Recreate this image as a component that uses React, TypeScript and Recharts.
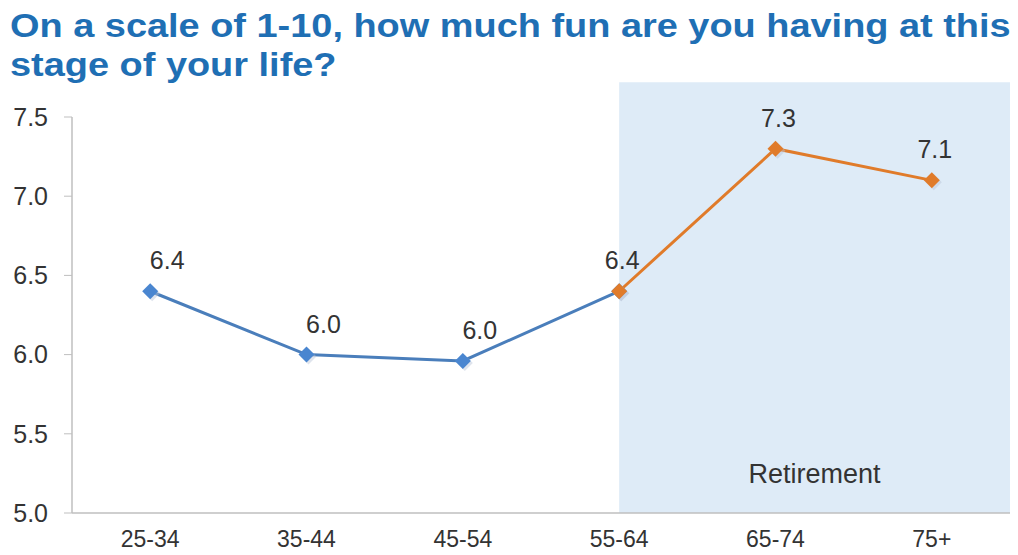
import React from "react";
import { LineChart, Line, XAxis, YAxis, ReferenceArea, Label } from "recharts";

const ageGroups = ["25-34", "35-44", "45-54", "55-64", "65-74", "75+"];
const funScores = [6.4, 6.0, 5.96, 6.4, 7.3, 7.1];
const retirementStart = 3; // first age group counted as retired
const scoreTicks = [5.0, 5.5, 6.0, 6.5, 7.0, 7.5];
const boundaryTicks = [-0.5, 0.5, 1.5, 2.5, 3.5, 4.5, 5.5];
const groupTicks = [0, 1, 2, 3, 4, 5];

const rows = ageGroups.map((group, i) => ({
  i,
  group,
  working: i <= retirementStart ? funScores[i] : null,
  retired: i >= retirementStart ? funScores[i] : null,
}));

const FONT = "'Liberation Sans', Arial, sans-serif";
const BLUE = "#4a7ebb";
const BLUE_DOT = "#4a86d0";
const ORANGE = "#e07b2a";
const GRID = "#bfbfbf";
const TEXT = "#333333";

const diamond = (fill: string) => (props: any) => {
  const { cx, cy, value, index } = props;
  if (value == null || cx == null || cy == null) return <g key={`d-${index}`} />;
  const r = 8;
  const path = (x: number, y: number) => `M${x},${y - r} L${x + r},${y} L${x},${y + r} L${x - r},${y} Z`;
  return (
    <g key={`d-${index}`}>
      <path d={path(cx + 2, cy + 2)} fill="#b8c4d6" opacity={0.45} />
      <path d={path(cx, cy)} fill={fill} />
    </g>
  );
};

const valueLabel = (dx: number, skip: number | null) => (props: any) => {
  const { x, y, value, index } = props;
  if (value == null || index === skip) return null;
  return (
    <text
      key={`l-${index}`}
      x={x + dx}
      y={y - 22}
      textAnchor="middle"
      fontFamily={FONT}
      fontSize={25}
      fill={TEXT}
    >
      {Number(value).toFixed(1)}
    </text>
  );
};

export default function App() {
  return (
    <div style={{ position: "absolute", left: 0, top: 0, width: 1018, height: 555, background: "#fff" }}>
      <div
        style={{
          position: "absolute",
          left: 10,
          top: 6,
          fontFamily: FONT,
          fontWeight: "bold",
          fontSize: 34,
          lineHeight: "39px",
          color: "#1f6fb4",
          whiteSpace: "nowrap",
          transform: "scaleX(1.115)",
          transformOrigin: "left top",
        }}
      >
        On a scale of 1-10, how much fun are you having at this
        <br />
        stage of your life?
      </div>
      <LineChart
        width={1018}
        height={555}
        data={rows}
        margin={{ top: 117, right: 8, left: 0, bottom: 0 }}
        style={{ position: "absolute", left: 0, top: 0 }}
      >
        <ReferenceArea
          xAxisId="bounds"
          x1={retirementStart}
          x2={5.5}
          y1={5}
          y2={7.72}
          ifOverflow="visible"
          fill="#deebf7"
          fillOpacity={1}
          stroke="none"
        >
          <Label
            value="Retirement"
            position="insideBottom"
            offset={30}
            style={{ fontFamily: FONT, fontSize: 27, fill: TEXT }}
          />
        </ReferenceArea>
        <XAxis
          xAxisId="bounds"
          type="number"
          dataKey="i"
          domain={[-0.5, 5.5]}
          ticks={boundaryTicks}
          tick={false}
          tickSize={7}
          tickLine={{ stroke: GRID }}
          axisLine={{ stroke: GRID, strokeWidth: 1.5 }}
          height={8}
          allowDataOverflow
        />
        <XAxis
          xAxisId="groups"
          type="number"
          dataKey="i"
          domain={[-0.5, 5.5]}
          ticks={groupTicks}
          interval={0}
          tickFormatter={(v: number) => ageGroups[v]}
          axisLine={false}
          tickLine={false}
          tickSize={0}
          tickMargin={10}
          height={34}
          tick={{ fontFamily: FONT, fontSize: 23, fill: TEXT }}
          allowDataOverflow
        />
        <YAxis
          type="number"
          domain={[5, 7.5]}
          ticks={scoreTicks}
          interval={0}
          allowDataOverflow
          tickFormatter={(v: number) => v.toFixed(1)}
          width={72}
          tickSize={8}
          tickMargin={16}
          tickLine={{ stroke: GRID }}
          axisLine={{ stroke: GRID, strokeWidth: 1.5 }}
          tick={{ fontFamily: FONT, fontSize: 25, fill: TEXT }}
        />
        <Line
          xAxisId="bounds"
          type="linear"
          dataKey="working"
          stroke={BLUE}
          strokeWidth={3}
          dot={diamond(BLUE_DOT)}
          activeDot={false}
          label={valueLabel(17, retirementStart)}
          isAnimationActive={false}
        />
        <Line
          xAxisId="bounds"
          type="linear"
          dataKey="retired"
          stroke={ORANGE}
          strokeWidth={3}
          dot={diamond(ORANGE)}
          activeDot={false}
          label={valueLabel(3, null)}
          isAnimationActive={false}
        />
      </LineChart>
    </div>
  );
}
